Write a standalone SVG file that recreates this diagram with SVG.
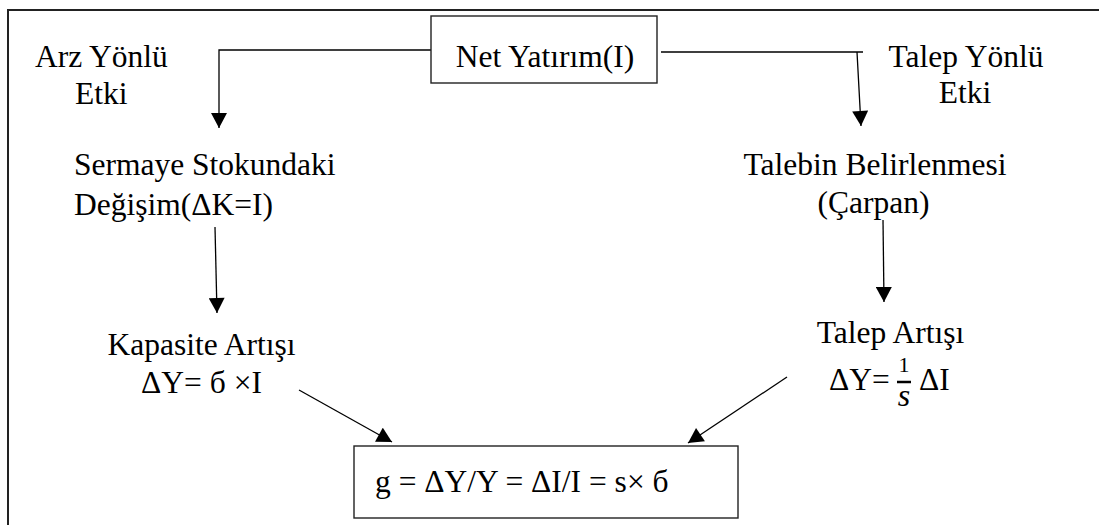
<svg xmlns="http://www.w3.org/2000/svg" width="1099" height="525" viewBox="0 0 1099 525">
<style>
text{font-family:'Liberation Serif','Tinos','Times New Roman','DejaVu Serif',serif;font-size:31.5px;fill:#000}
.m{text-anchor:middle}
.box{fill:#fff;stroke:#222;stroke-width:1.4}
.c{fill:none;stroke:#000;stroke-width:1.3}
</style>
<defs>
<marker id="ah" markerUnits="userSpaceOnUse" markerWidth="16" markerHeight="16" viewBox="0 0 15 16" refX="15" refY="8" orient="auto">
<path d="M0,0 L15,8 L0,16 Z" fill="#000"/>
</marker>
</defs>
<rect width="1099" height="525" fill="#fff"/>
<rect id="frame" x="8" y="10" width="1110" height="540" fill="none" stroke="#222" stroke-width="2"/>
<g id="connectors">
<path class="c" d="M431,50 H219 V128" marker-end="url(#ah)"/>
<path class="c" d="M661,52 H863 M857,52 L861,126" marker-end="url(#ah)"/>
<path class="c" d="M215,227 L217,313" marker-end="url(#ah)"/>
<path class="c" d="M883,220 L884,302" marker-end="url(#ah)"/>
<path class="c" d="M299,390 L392,442" marker-end="url(#ah)"/>
<path class="c" d="M787,377 L688,443" marker-end="url(#ah)"/>
</g>
<g id="net">
<rect class="box" x="431" y="16" width="226" height="67"/>
<text class="m" x="545" y="67" font-family="Liberation Serif, serif">Net Yatırım(I)</text>
</g>
<g id="arz">
<text x="35" y="67">Arz Yönlü</text>
<text x="75" y="104">Etki</text>
</g>
<g id="talepyonlu">
<text class="m" x="966" y="67">Talep Yönlü</text>
<text class="m" x="965" y="103">Etki</text>
</g>
<g id="sermaye">
<text x="74" y="175">Sermaye Stokundaki</text>
<text x="74" y="215">Değişim(ΔK=I)</text>
</g>
<g id="talebin">
<text class="m" x="875" y="175">Talebin Belirlenmesi</text>
<text class="m" x="873.5" y="213">(Çarpan)</text>
</g>
<g id="kapasite">
<text class="m" x="201.5" y="355">Kapasite Artışı</text>
<text class="m" x="201.5" y="393">ΔY= б ×I</text>
</g>
<g id="talepartisi">
<text class="m" x="890.5" y="343">Talep Artışı</text>
<text x="829" y="390">ΔY=</text>
<text class="m" x="904" y="372" style="font-size:22px">1</text>
<line x1="897" y1="382" x2="911" y2="382" stroke="#000" stroke-width="2.5"/>
<text class="m" x="904" y="406" style="font-size:32px;font-style:italic">s</text>
<text x="919" y="390">ΔI</text>
</g>
<g id="growth">
<rect class="box" x="354" y="446" width="384" height="72"/>
<text x="375" y="492">g = ΔY/Y = ΔI/I = s× б</text>
</g>
</svg>
